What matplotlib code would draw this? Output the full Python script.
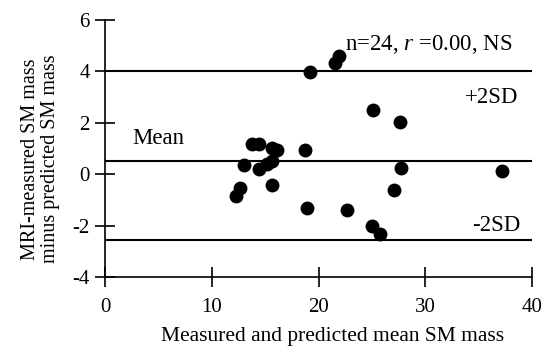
import numpy as np
import matplotlib.pyplot as plt

# Bland-Altman style data
mean_mass = [19.2, 21.5, 21.9, 25.1, 27.6, 13.8, 14.4, 15.6, 16.1, 18.7,
             13.0, 14.4, 15.2, 15.6, 27.7, 37.2, 15.6, 12.6, 12.3, 27.1,
             18.9, 22.7, 25.0, 25.8]
diff_mass = [3.97, 4.32, 4.61, 2.51, 2.03, 1.19, 1.19, 1.02, 0.93, 0.93,
             0.35, 0.20, 0.38, 0.50, 0.25, 0.14, -0.43, -0.53, -0.83, -0.63,
             -1.33, -1.40, -2.02, -2.34]

mean_line = 0.52
upper_sd = 4.0
lower_sd = -2.55

x_ticks = [0, 10, 20, 30, 40]
y_ticks = [-4, -2, 0, 2, 4, 6]

plt.rcParams['font.family'] = ['Liberation Serif', 'DejaVu Serif']
plt.rcParams['mathtext.fontset'] = 'custom'
plt.rcParams['mathtext.it'] = 'Liberation Serif:italic'
plt.rcParams['mathtext.rm'] = 'Liberation Serif'
plt.rcParams['axes.unicode_minus'] = False

fig = plt.figure(figsize=(5.45, 3.49), dpi=100)
ax = fig.add_axes([0.1927, 0.2063, 0.7835, 0.7364])

ax.scatter(mean_mass, diff_mass, s=100, color='black', zorder=3, linewidths=0)

for val in (upper_sd, mean_line, lower_sd):
    ax.plot([0, 40], [val, val], color='black', lw=1.5, zorder=2)

ax.text(2.6, 1.17, 'Mean', fontsize=16.5, ha='left', va='baseline')
ax.text(33.7, 2.76, '+2SD', fontsize=16.5, ha='left', va='baseline')
ax.text(34.35, -2.21, '-2SD', fontsize=16.5, ha='left', va='baseline')
ax.text(22.5, 4.85, 'n=24, $r$ =0.00, NS', fontsize=16.5, ha='left', va='baseline')

ax.set_xlim(0, 40)
ax.set_ylim(-4, 6)
ax.set_xticks(x_ticks)
ax.set_yticks(y_ticks)
ax.tick_params(direction='inout', length=14, width=1.2, labelsize=15)
ax.tick_params(axis='y', pad=4)
ax.tick_params(axis='x', pad=8)

for side in ('top', 'right'):
    ax.spines[side].set_visible(False)
for side in ('left', 'bottom'):
    ax.spines[side].set_linewidth(1.2)

ax.set_xlabel('Measured and predicted mean SM mass', fontsize=15.5)
ax.xaxis.set_label_coords(0.533, -0.195)
ax.set_ylabel('MRI-measured SM mass\nminus predicted SM mass', fontsize=14.5,
              linespacing=1.08)
ax.yaxis.set_label_coords(-0.105, 0.459)

fig.savefig('out.png', dpi=100)
